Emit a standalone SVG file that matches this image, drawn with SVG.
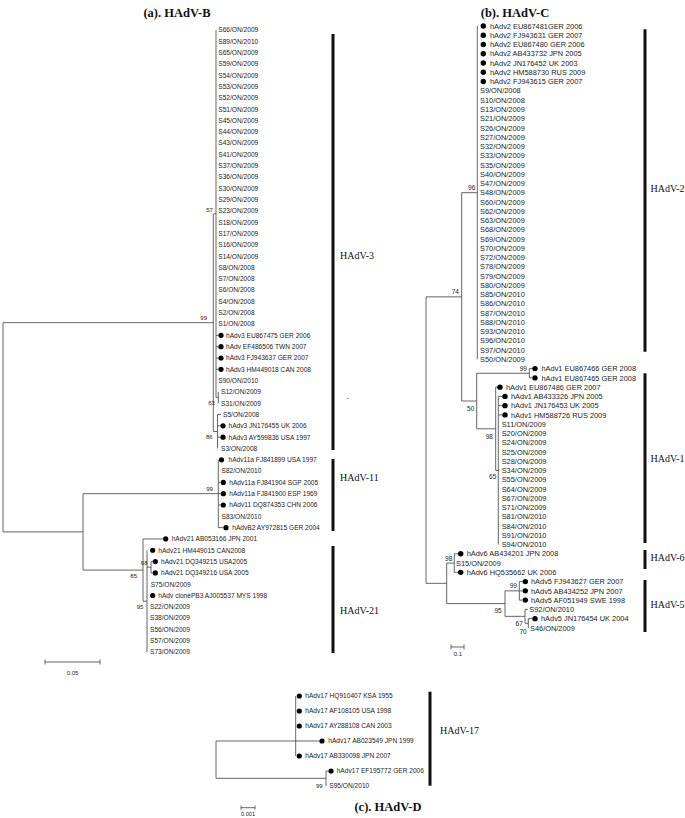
<svg xmlns="http://www.w3.org/2000/svg" width="685" height="818" viewBox="0 0 685 818">
<style>
text{font-family:"Liberation Sans",Arial,sans-serif;fill:#222}
.la,.lc{font-size:6.6px}
.lb{font-size:7.4px}
.bs{font-size:6px;text-anchor:middle}
.bsb{font-size:6.5px;text-anchor:middle}
.cl{font-family:"Liberation Serif","Times New Roman",serif;font-size:10px;fill:#111}
.tt{font-family:"Liberation Serif","Times New Roman",serif;font-size:12.5px;font-weight:bold;text-anchor:middle;fill:#111}
.sc{font-size:6px;text-anchor:middle}
.br{fill:none;stroke:#555;stroke-width:0.9}
.bar{stroke:#111;stroke-width:3}
.dot{fill:#000}
</style>
<rect width="685" height="818" fill="#fff"/>
<text class="tt" x="177" y="16.5">(a). HAdV-B</text>
<text class="tt" x="515" y="16.5">(b). HAdV-C</text>
<text class="tt" x="388" y="811">(c). HAdV-D</text>

<g id="connectors">
<path class="br" d="M3,322.65V531.9M3,322.65H213.3M3,531.9H83M213.3,213.8V431.5M213.3,213.8H216M216,30V397.6M216,397.6H218.3M218.3,391.92V403.23M213.3,431.5H217.5M217.5,414.54V448.47M217.5,414.54H221M217.5,425.85H220.5M217.5,437.16H220.5M216,335.37H218.5M216,346.68H218.5M216,357.99H218.5M216,369.3H218.5M83,493.7V570.1M83,493.7H218.3M218.3,459.78V527.64M218.3,482.4H220.8M218.3,493.71H220.8M218.3,505.02H220.8M218.3,527.64H223.4M83,570.1H143M143,538.95V601.2M143,538.95H163.2M143,601.2H147M147,550.26V652.05M147,567.2H151M151,561.57V572.88M151,561.57H152.8M151,572.88H152.8"/>
<path class="br" d="M426,296.86V583.34M426,296.86H461.7M461.7,192.68V401.03M461.7,192.68H477.3M477.3,26V359.36M461.7,401.03H476.7M476.7,373.25V428.81M476.7,373.25H529.3M529.3,368.62V377.88M529.3,368.62H532.4M529.3,377.88H532.4M476.7,428.81H495.7M495.7,387.14V470.48M495.7,387.14H497.5M495.7,470.48H498.3M498.3,396.4V544.56M498.3,396.4H502.4M498.3,405.66H502.4M498.3,414.92H502.4M426,583.34H446.7M446.7,563.08V603.6M446.7,563.08H454.3M454.3,553.82V572.34M454.3,553.82H458M454.3,572.34H458M446.7,603.6H505M505,590.86V616.33M505,590.86H519.3M519.3,581.6V600.12M519.3,581.6H522.7M519.3,590.86H522.7M519.3,600.12H522.7M505,616.33H525M525,609.38V623.27M525,609.38H527.8M525,623.27H528.3M528.3,618.64V627.9M528.3,618.64H532.4"/>
<path class="br" d="M216,741V778.3M216,741H319.4M295.7,696V756M216,778.3H326M326,771V786M326,771H328.4"/>
<path class="br" d="M45,662H100M45,659.5V664.5M100,659.5V664.5M451,647H464M451,644.5V649.5M464,644.5V649.5M241,807.7H255M241,805.7V809.7M255,805.7V809.7"/>
</g>

<g id="scales">
<text class="sc" x="72.5" y="675">0.05</text>
<text class="sc" x="458" y="656">0.1</text>
<text class="sc" style="font-size:5.6px" x="248" y="816">0.001</text>
</g>

<g id="support">
<text class="bs" x="209.5" y="212.1">57</text>
<text class="bs" x="203.7" y="320.4">99</text>
<text class="bs" x="211.5" y="404.8">63</text>
<text class="bs" x="209.3" y="438.8">86</text>
<text class="bs" x="209.5" y="491.4">99</text>
<text class="bs" x="144.2" y="565.4">68</text>
<text class="bs" x="133.7" y="578.1">85</text>
<text class="bs" x="140" y="608.8">95</text>
<text class="bsb" x="471.7" y="190">96</text>
<text class="bsb" x="455.3" y="294">74</text>
<text class="bsb" x="523.3" y="370.6">99</text>
<text class="bsb" x="470.7" y="410.6">50</text>
<text class="bsb" x="489.3" y="439">98</text>
<text class="bsb" x="492.7" y="479.3">65</text>
<text class="bsb" x="448.7" y="560.6">98</text>
<text class="bsb" x="513.3" y="588">99</text>
<text class="bsb" x="498" y="613">95</text>
<text class="bsb" x="519.2" y="625.6">67</text>
<text class="bsb" x="523" y="634">70</text>
<text class="bs" x="319.3" y="788.1">99</text>
</g>

<g id="clades">
<line class="bar" x1="333" y1="34" x2="333" y2="450"/>
<line class="bar" x1="333" y1="459" x2="333" y2="531"/>
<line class="bar" x1="333" y1="546" x2="333" y2="653"/>
<line class="bar" x1="645" y1="29.3" x2="645" y2="351.7"/>
<line class="bar" x1="645" y1="373.3" x2="645" y2="543"/>
<line class="bar" x1="645" y1="550" x2="645" y2="569"/>
<line class="bar" x1="645" y1="580" x2="645" y2="632"/>
<line class="bar" x1="430" y1="691.7" x2="430" y2="785.7"/>
<g id="c-HAdV-3"><text class="cl" x="340" y="258.5">HAdV-3</text></g>
<g id="c-HAdV-11"><text class="cl" x="340" y="480.5">HAdV-11</text></g>
<g id="c-HAdV-21"><text class="cl" x="340" y="613.5">HAdV-21</text></g>
<g id="c-HAdV-2"><text class="cl" x="650.5" y="191.8">HAdV-2</text></g>
<g id="c-HAdV-1"><text class="cl" x="650.5" y="461.8">HAdV-1</text></g>
<g id="c-HAdV-6"><text class="cl" x="650.5" y="560.8">HAdV-6</text></g>
<g id="c-HAdV-5"><text class="cl" x="650.5" y="607.5">HAdV-5</text></g>
<g id="c-HAdV-17"><text class="cl" x="440" y="733.5">HAdV-17</text></g>
<text class="la" x="346.5" y="400">-</text>
</g>

<g id="panel-a">
<g id="a0"><text class="la" x="218.3" y="32.3">S66/ON/2009</text></g>
<g id="a1"><text class="la" x="218.3" y="43.6">S89/ON/2010</text></g>
<g id="a2"><text class="la" x="218.3" y="54.9">S65/ON/2009</text></g>
<g id="a3"><text class="la" x="218.3" y="66.2">S59/ON/2009</text></g>
<g id="a4"><text class="la" x="218.3" y="77.5">S54/ON/2009</text></g>
<g id="a5"><text class="la" x="218.3" y="88.9">S53/ON/2009</text></g>
<g id="a6"><text class="la" x="218.3" y="100.2">S52/ON/2009</text></g>
<g id="a7"><text class="la" x="218.3" y="111.5">S51/ON/2009</text></g>
<g id="a8"><text class="la" x="218.3" y="122.8">S45/ON/2009</text></g>
<g id="a9"><text class="la" x="218.3" y="134.1">S44/ON/2009</text></g>
<g id="a10"><text class="la" x="218.3" y="145.4">S43/ON/2009</text></g>
<g id="a11"><text class="la" x="218.3" y="156.7">S41/ON/2009</text></g>
<g id="a12"><text class="la" x="218.3" y="168">S37/ON/2009</text></g>
<g id="a13"><text class="la" x="218.3" y="179.3">S36/ON/2009</text></g>
<g id="a14"><text class="la" x="218.3" y="190.6">S30/ON/2009</text></g>
<g id="a15"><text class="la" x="218.3" y="202">S29/ON/2009</text></g>
<g id="a16"><text class="la" x="218.3" y="213.3">S23/ON/2009</text></g>
<g id="a17"><text class="la" x="218.3" y="224.6">S18/ON/2009</text></g>
<g id="a18"><text class="la" x="218.3" y="235.9">S17/ON/2009</text></g>
<g id="a19"><text class="la" x="218.3" y="247.2">S16/ON/2009</text></g>
<g id="a20"><text class="la" x="218.3" y="258.5">S14/ON/2009</text></g>
<g id="a21"><text class="la" x="218.3" y="269.8">S8/ON/2008</text></g>
<g id="a22"><text class="la" x="218.3" y="281.1">S7/ON/2008</text></g>
<g id="a23"><text class="la" x="218.3" y="292.4">S6/ON/2008</text></g>
<g id="a24"><text class="la" x="218.3" y="303.7">S4/ON/2008</text></g>
<g id="a25"><text class="la" x="218.3" y="315.1">S2/ON/2008</text></g>
<g id="a26"><text class="la" x="218.3" y="326.4">S1/ON/2008</text></g>
<g id="a27"><circle class="dot" cx="221" cy="335.37" r="2.6"/><text class="la" x="226" y="337.7">hAdv3 EU867475 GER 2006</text></g>
<g id="a28"><circle class="dot" cx="221" cy="346.68" r="2.6"/><text class="la" x="226" y="349">hAdv EF486506 TWN 2007</text></g>
<g id="a29"><circle class="dot" cx="221" cy="357.99" r="2.6"/><text class="la" x="226" y="360.3">hAdv3 FJ943637 GER 2007</text></g>
<g id="a30"><circle class="dot" cx="221" cy="369.3" r="2.6"/><text class="la" x="226" y="371.6">hAdv3 HM449018 CAN 2008</text></g>
<g id="a31"><text class="la" x="218.3" y="382.9">S90/ON/2010</text></g>
<g id="a32"><text class="la" x="221" y="394.2">S12/ON/2009</text></g>
<g id="a33"><text class="la" x="221" y="405.5">S31/ON/2009</text></g>
<g id="a34"><text class="la" x="223" y="416.8">S5/ON/2008</text></g>
<g id="a35"><circle class="dot" cx="223" cy="425.85" r="2.6"/><text class="la" x="228.5" y="428.2">hAdv3 JN176455 UK 2006</text></g>
<g id="a36"><circle class="dot" cx="223" cy="437.16" r="2.6"/><text class="la" x="228.5" y="439.5">hAdv3 AY599836 USA 1997</text></g>
<g id="a37"><text class="la" x="221" y="450.8">S3/ON/2008</text></g>
<g id="a38"><circle class="dot" cx="221.5" cy="459.78" r="2.6"/><text class="la" x="228.5" y="462.1">hAdv11a FJ841899 USA 1997</text></g>
<g id="a39"><text class="la" x="221.5" y="473.4">S82/ON/2010</text></g>
<g id="a40"><circle class="dot" cx="223.3" cy="482.4" r="2.6"/><text class="la" x="229.3" y="484.7">hAdv11a FJ841904 SGP 2005</text></g>
<g id="a41"><circle class="dot" cx="223.3" cy="493.71" r="2.6"/><text class="la" x="229.3" y="496">hAdv11a FJ841900 ESP 1969</text></g>
<g id="a42"><circle class="dot" cx="223.3" cy="505.02" r="2.6"/><text class="la" x="229.3" y="507.3">hAdv11 DQ874353 CHN 2006</text></g>
<g id="a43"><text class="la" x="221.5" y="518.6">S83/ON/2010</text></g>
<g id="a44"><circle class="dot" cx="226" cy="527.64" r="2.6"/><text class="la" x="232.3" y="529.9">hAdvB2 AY972815 GER 2004</text></g>
<g id="a45"><circle class="dot" cx="165.7" cy="538.95" r="2.6"/><text class="la" x="171.7" y="541.3">hAdv21 AB053166 JPN 2001</text></g>
<g id="a46"><circle class="dot" cx="152.7" cy="550.26" r="2.6"/><text class="la" x="158.3" y="552.6">hAdv21 HM449015 CAN2008</text></g>
<g id="a47"><circle class="dot" cx="155.3" cy="561.57" r="2.6"/><text class="la" x="161" y="563.9">hAdv21 DQ349215 USA2005</text></g>
<g id="a48"><circle class="dot" cx="155.3" cy="572.88" r="2.6"/><text class="la" x="161" y="575.2">hAdv21 DQ349216 USA 2005</text></g>
<g id="a49"><text class="la" x="150.7" y="586.5">S75/ON/2009</text></g>
<g id="a50"><circle class="dot" cx="152.7" cy="595.5" r="2.6"/><text class="la" x="158.3" y="597.8">hAdv clonePB3 AJ005537 MYS 1998</text></g>
<g id="a51"><text class="la" x="150" y="609.1">S22/ON/2009</text></g>
<g id="a52"><text class="la" x="150" y="620.4">S38/ON/2009</text></g>
<g id="a53"><text class="la" x="150" y="631.7">S56/ON/2009</text></g>
<g id="a54"><text class="la" x="150" y="643">S57/ON/2009</text></g>
<g id="a55"><text class="la" x="150" y="654.4">S73/ON/2009</text></g>
</g>

<g id="panel-b">
<g id="b0"><circle class="dot" cx="483.3" cy="26" r="2.7"/><text class="lb" x="490" y="28.6">hAdv2 EU867481GER 2006</text></g>
<g id="b1"><circle class="dot" cx="483.3" cy="35.26" r="2.7"/><text class="lb" x="490" y="37.9">hAdv2 FJ943631 GER 2007</text></g>
<g id="b2"><circle class="dot" cx="483.3" cy="44.52" r="2.7"/><text class="lb" x="490" y="47.1">hAdv2 EU867480 GER 2006</text></g>
<g id="b3"><circle class="dot" cx="483.3" cy="53.78" r="2.7"/><text class="lb" x="490" y="56.4">hAdv2 AB433732 JPN 2005</text></g>
<g id="b4"><circle class="dot" cx="483.3" cy="63.04" r="2.7"/><text class="lb" x="490" y="65.6">hAdv2 JN176452 UK 2003</text></g>
<g id="b5"><circle class="dot" cx="483.3" cy="72.3" r="2.7"/><text class="lb" x="490" y="74.9">hAdv2 HM588730 RUS 2009</text></g>
<g id="b6"><circle class="dot" cx="483.3" cy="81.56" r="2.7"/><text class="lb" x="490" y="84.2">hAdv2 FJ943615 GER 2007</text></g>
<g id="b7"><text class="lb" x="480" y="93.4">S9/ON/2008</text></g>
<g id="b8"><text class="lb" x="480" y="102.7">S10/ON/2008</text></g>
<g id="b9"><text class="lb" x="480" y="111.9">S13/ON/2009</text></g>
<g id="b10"><text class="lb" x="480" y="121.2">S21/ON/2009</text></g>
<g id="b11"><text class="lb" x="480" y="130.5">S26/ON/2009</text></g>
<g id="b12"><text class="lb" x="480" y="139.7">S27/ON/2009</text></g>
<g id="b13"><text class="lb" x="480" y="149">S32/ON/2009</text></g>
<g id="b14"><text class="lb" x="480" y="158.2">S33/ON/2009</text></g>
<g id="b15"><text class="lb" x="480" y="167.5">S35/ON/2009</text></g>
<g id="b16"><text class="lb" x="480" y="176.8">S40/ON/2009</text></g>
<g id="b17"><text class="lb" x="480" y="186">S47/ON/2009</text></g>
<g id="b18"><text class="lb" x="480" y="195.3">S48/ON/2009</text></g>
<g id="b19"><text class="lb" x="480" y="204.5">S60/ON/2009</text></g>
<g id="b20"><text class="lb" x="480" y="213.8">S62/ON/2009</text></g>
<g id="b21"><text class="lb" x="480" y="223.1">S63/ON/2009</text></g>
<g id="b22"><text class="lb" x="480" y="232.3">S68/ON/2009</text></g>
<g id="b23"><text class="lb" x="480" y="241.6">S69/ON/2009</text></g>
<g id="b24"><text class="lb" x="480" y="250.8">S70/ON/2009</text></g>
<g id="b25"><text class="lb" x="480" y="260.1">S72/ON/2009</text></g>
<g id="b26"><text class="lb" x="480" y="269.4">S78/ON/2009</text></g>
<g id="b27"><text class="lb" x="480" y="278.6">S79/ON/2009</text></g>
<g id="b28"><text class="lb" x="480" y="287.9">S80/ON/2009</text></g>
<g id="b29"><text class="lb" x="480" y="297.1">S85/ON/2010</text></g>
<g id="b30"><text class="lb" x="480" y="306.4">S86/ON/2010</text></g>
<g id="b31"><text class="lb" x="480" y="315.7">S87/ON/2010</text></g>
<g id="b32"><text class="lb" x="480" y="324.9">S88/ON/2010</text></g>
<g id="b33"><text class="lb" x="480" y="334.2">S93/ON/2010</text></g>
<g id="b34"><text class="lb" x="480" y="343.4">S96/ON/2010</text></g>
<g id="b35"><text class="lb" x="480" y="352.7">S97/ON/2010</text></g>
<g id="b36"><text class="lb" x="480" y="362">S50/ON/2009</text></g>
<g id="b37"><circle class="dot" cx="535" cy="368.62" r="2.7"/><text class="lb" x="541.5" y="371.2">hAdv1 EU867466 GER 2008</text></g>
<g id="b38"><circle class="dot" cx="535" cy="377.88" r="2.7"/><text class="lb" x="541.5" y="380.5">hAdv1 EU867465 GER 2008</text></g>
<g id="b39"><circle class="dot" cx="500" cy="387.14" r="2.7"/><text class="lb" x="506" y="389.7">hAdv1 EU867486 GER 2007</text></g>
<g id="b40"><circle class="dot" cx="505" cy="396.4" r="2.7"/><text class="lb" x="511" y="399">hAdv1 AB433326 JPN 2005</text></g>
<g id="b41"><circle class="dot" cx="505" cy="405.66" r="2.7"/><text class="lb" x="511" y="408.3">hAdv1 JN176453 UK 2005</text></g>
<g id="b42"><circle class="dot" cx="505" cy="414.92" r="2.7"/><text class="lb" x="511" y="417.5">hAdv1 HM588726 RUS 2009</text></g>
<g id="b43"><text class="lb" x="501.7" y="426.8">S11/ON/2009</text></g>
<g id="b44"><text class="lb" x="501.7" y="436">S20/ON/2009</text></g>
<g id="b45"><text class="lb" x="501.7" y="445.3">S24/ON/2009</text></g>
<g id="b46"><text class="lb" x="501.7" y="454.6">S25/ON/2009</text></g>
<g id="b47"><text class="lb" x="501.7" y="463.8">S28/ON/2009</text></g>
<g id="b48"><text class="lb" x="501.7" y="473.1">S34/ON/2009</text></g>
<g id="b49"><text class="lb" x="501.7" y="482.3">S55/ON/2009</text></g>
<g id="b50"><text class="lb" x="501.7" y="491.6">S64/ON/2009</text></g>
<g id="b51"><text class="lb" x="501.7" y="500.9">S67/ON/2009</text></g>
<g id="b52"><text class="lb" x="501.7" y="510.1">S71/ON/2009</text></g>
<g id="b53"><text class="lb" x="501.7" y="519.4">S81/ON/2010</text></g>
<g id="b54"><text class="lb" x="501.7" y="528.6">S84/ON/2010</text></g>
<g id="b55"><text class="lb" x="501.7" y="537.9">S91/ON/2010</text></g>
<g id="b56"><text class="lb" x="501.7" y="547.2">S94/ON/2010</text></g>
<g id="b57"><circle class="dot" cx="460.7" cy="553.82" r="2.7"/><text class="lb" x="466.7" y="556.4">hAdv6 AB434201 JPN 2008</text></g>
<g id="b58"><text class="lb" x="456" y="565.7">S15/ON/2009</text></g>
<g id="b59"><circle class="dot" cx="460.7" cy="572.34" r="2.7"/><text class="lb" x="466.7" y="574.9">hAdv6 HQ535662 UK 2006</text></g>
<g id="b60"><circle class="dot" cx="525.3" cy="581.6" r="2.7"/><text class="lb" x="531" y="584.2">hAdv5 FJ943627 GER 2007</text></g>
<g id="b61"><circle class="dot" cx="525.3" cy="590.86" r="2.7"/><text class="lb" x="531" y="593.5">hAdv5 AB434252 JPN 2007</text></g>
<g id="b62"><circle class="dot" cx="525.3" cy="600.12" r="2.7"/><text class="lb" x="531" y="602.7">hAdv5 AF051949 SWE 1998</text></g>
<g id="b63"><text class="lb" x="529.3" y="612">S92/ON/2010</text></g>
<g id="b64"><circle class="dot" cx="535" cy="618.64" r="2.7"/><text class="lb" x="541" y="621.2">hAdv5 JN176454 UK 2004</text></g>
<g id="b65"><text class="lb" x="530" y="630.5">S46/ON/2009</text></g>
</g>

<g id="panel-c">
<g id="c0"><circle class="dot" cx="299.3" cy="696" r="2.6"/><text class="lc" x="305.3" y="698.3">hAdv17 HQ910407 KSA 1955</text></g>
<g id="c1"><circle class="dot" cx="299.3" cy="711" r="2.6"/><text class="lc" x="305.3" y="713.3">hAdv17 AF108105 USA 1998</text></g>
<g id="c2"><circle class="dot" cx="299.3" cy="726" r="2.6"/><text class="lc" x="305.3" y="728.3">hAdv17 AY288108 CAN 2003</text></g>
<g id="c3"><circle class="dot" cx="322" cy="741" r="2.6"/><text class="lc" x="328.3" y="743.3">hAdv17 AB023549 JPN 1999</text></g>
<g id="c4"><circle class="dot" cx="299.3" cy="756" r="2.6"/><text class="lc" x="305.3" y="758.3">hAdv17 AB330098 JPN 2007</text></g>
<g id="c5"><circle class="dot" cx="331" cy="771" r="2.6"/><text class="lc" x="336.7" y="773.3">hAdv17 EF195772 GER 2006</text></g>
<g id="c6"><text class="lc" x="329.3" y="788.3">S95/ON/2010</text></g>
</g>
</svg>
